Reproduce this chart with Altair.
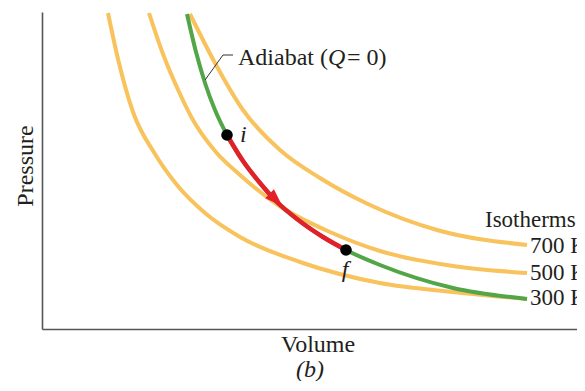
import altair as alt
import pandas as pd

# Isotherms (volume, pressure) in arbitrary units
V300 = [0.66, 0.76, 0.91, 1.13, 1.35, 1.63, 1.98, 2.58, 3.38, 4.11, 4.85]
P300 = [3.16, 2.70, 2.17, 1.75, 1.44, 1.16, 0.92, 0.67, 0.46, 0.37, 0.30]
V500 = [1.07, 1.21, 1.38, 1.51, 1.73, 1.98, 2.36, 2.88, 3.38, 4.11, 4.85]
P500 = [3.16, 2.75, 2.35, 2.09, 1.78, 1.54, 1.24, 0.97, 0.78, 0.63, 0.56]
V700 = [1.48, 1.73, 2.01, 2.38, 2.78, 3.28, 3.95, 4.85]
P700 = [3.15, 2.66, 2.19, 1.79, 1.51, 1.24, 0.99, 0.84]

# Adiabat
V_AD = [1.45, 1.54, 1.63, 1.73, 1.85, 2.01, 2.18, 2.35, 2.55, 2.81, 3.04, 3.38, 4.11, 4.85]
P_AD = [3.15, 2.77, 2.46, 2.19, 1.94, 1.68, 1.46, 1.27, 1.10, 0.92, 0.79, 0.64, 0.41, 0.30]

# States i and f
STATE_NAMES = ["i", "f"]
STATE_V = [1.85, 3.04]
STATE_P = [1.94, 0.79]

ISO_NAMES = ["700 K", "500 K", "300 K"]

FONT = "Liberation Serif"
FS = 24
ORANGE = "#F8C25C"
GREEN = "#52A647"
RED = "#E2202A"
INK = "#231f20"

iso = pd.concat([
    pd.DataFrame({"V": V300, "P": P300, "T": "300 K"}),
    pd.DataFrame({"V": V500, "P": P500, "T": "500 K"}),
    pd.DataFrame({"V": V700, "P": P700, "T": "700 K"}),
])
adi = pd.DataFrame({"V": V_AD, "P": P_AD})
states = pd.DataFrame({"V": STATE_V, "P": STATE_P, "name": STATE_NAMES})

xs = alt.Scale(domain=[0, 5.35], nice=False, zero=False)
ys = alt.Scale(domain=[0, 3.17], nice=False, zero=False)
X = alt.X("V:Q", scale=xs, title=None)
Y = alt.Y("P:Q", scale=ys, title=None)

iso_lines = alt.Chart(iso).mark_line(
    color=ORANGE, strokeWidth=4, interpolate="monotone", clip=True
).encode(x=X, y=Y, detail="T:N")

adi_line = alt.Chart(adi).mark_line(
    color=GREEN, strokeWidth=4, interpolate="monotone", clip=True
).encode(x=X, y=Y)

red_seg = alt.Chart(adi).transform_filter(
    f"datum.V >= {STATE_V[0]} && datum.V <= {STATE_V[1]}"
).mark_line(color=RED, strokeWidth=4.5, interpolate="monotone").encode(x=X, y=Y)

arrow = alt.Chart(pd.DataFrame({"V": [2.34], "P": [1.29]})).mark_point(
    shape="M0,-1L0.7,1L-0.7,1Z", filled=True, fill=RED, stroke=RED, strokeWidth=0,
    size=320, angle=134, opacity=1
).encode(x=X, y=Y)

dots = alt.Chart(states).mark_circle(size=135, color="black", opacity=1).encode(x=X, y=Y)

i_lab = alt.Chart(pd.DataFrame({"V": [1.98], "P": [1.87], "t": ["i"]})).mark_text(
    font=FONT, fontSize=FS, fontStyle="italic", align="left", baseline="alphabetic", color=INK
).encode(x=X, y=Y, text="t:N")
f_lab = alt.Chart(pd.DataFrame({"V": [3.03], "P": [0.52], "t": ["f"]})).mark_text(
    font=FONT, fontSize=FS, fontStyle="italic", align="center", baseline="alphabetic", color=INK
).encode(x=X, y=Y, text="t:N")

leader = alt.Chart(pd.DataFrame({"V": [1.63, 1.81, 1.91], "P": [2.49, 2.74, 2.74]})).mark_line(
    color="#333333", strokeWidth=1
).encode(x=X, y=Y)

def txt(v, p, s, style="normal", align="left", angle=0, size=FS):
    return alt.Chart(pd.DataFrame({"V": [v], "P": [p], "t": [s]})).mark_text(
        font=FONT, fontSize=size, fontStyle=style, align=align, baseline="alphabetic",
        color=INK, angle=angle
    ).encode(x=X, y=Y, text="t:N")

adi_text = alt.layer(
    txt(1.96, 2.64, "Adiabat ("),
    txt(2.86, 2.64, "Q", "italic"),
    txt(3.05, 2.64, "= 0)"),
)

iso_title = txt(4.43, 1.02, "Isotherms", size=23)
iso_labs = alt.Chart(pd.DataFrame({"V": [4.88] * 3, "P": [0.76, 0.49, 0.24], "t": ISO_NAMES})).mark_text(
    font=FONT, fontSize=23, align="left", baseline="alphabetic", color=INK
).encode(x=X, y=Y, text="t:N")

vol = txt(2.76, -0.23, "Volume", align="center")
pres = txt(-0.09, 1.63, "Pressure", align="center", angle=270)
sub = txt(2.68, -0.48, "(b)", "italic", align="center")

chart = alt.layer(
    iso_lines, adi_line, red_seg, arrow, dots, i_lab, f_lab, leader,
    adi_text, iso_title, iso_labs, vol, pres, sub
).properties(
    width=535, height=317,
    autosize=alt.AutoSizeParams(type="none"),
    padding={"left": 34, "top": 4, "right": 0, "bottom": 52},
).configure_view(stroke=None).configure_axis(
    domain=True, domainColor="#555555", domainWidth=1.6,
    ticks=False, labels=False, grid=False
)

chart.save("out.html", embed_options={"renderer": "svg", "actions": False})
